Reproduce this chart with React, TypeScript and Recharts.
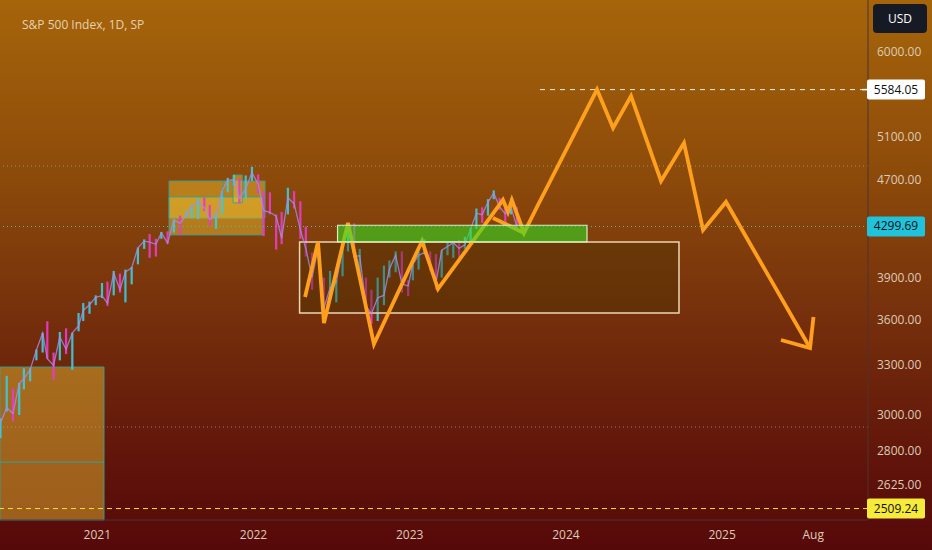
import React from "react";
import { ComposedChart, XAxis, YAxis, Bar, Line, ReferenceArea, ReferenceLine } from "recharts";

// ---------- price candles (bi-weekly ranges) ----------
const candleTime = [
  2020.38, 2020.42, 2020.46, 2020.5, 2020.53, 2020.57, 2020.61, 2020.65, 2020.68, 2020.72, 2020.76, 2020.8, 2020.84, 2020.88, 2020.91, 2020.95, 2020.99,
  2021.03, 2021.065, 2021.105, 2021.145, 2021.18, 2021.22, 2021.26, 2021.3, 2021.335, 2021.375, 2021.41, 2021.45, 2021.49, 2021.53, 2021.57, 2021.605, 2021.645, 2021.685, 2021.72, 2021.76, 2021.8, 2021.835, 2021.875, 2021.91, 2021.95, 2021.99,
  2022.03, 2022.065, 2022.105, 2022.145, 2022.18, 2022.22, 2022.26, 2022.3, 2022.335, 2022.375, 2022.41, 2022.45, 2022.49, 2022.53, 2022.57, 2022.605, 2022.645, 2022.68, 2022.72, 2022.755, 2022.795, 2022.835, 2022.87, 2022.91, 2022.95, 2022.99,
  2023.02, 2023.057, 2023.094, 2023.131, 2023.168, 2023.205, 2023.242, 2023.279, 2023.316, 2023.353, 2023.39, 2023.427, 2023.464, 2023.501, 2023.538, 2023.575, 2023.612, 2023.649, 2023.686,
];
const candleLow = [
  2870, 3020, 2965, 3000, 3150, 3200, 3330, 3380, 3340, 3210, 3330, 3370, 3270, 3520, 3590, 3640, 3700,
  3750, 3695, 3770, 3790, 3720, 3850, 4000, 4120, 4050, 4060, 4200, 4160, 4250, 4230, 4380, 4370, 4360, 4430, 4305, 4280, 4400, 4590, 4650, 4495, 4530, 4690,
  4580, 4222, 4400, 4114, 4157, 4400, 4450, 4200, 4060, 3810, 4080, 3637, 3740, 3720, 3910, 4100, 4050, 3900, 3640, 3570, 3590, 3700, 3900, 3940, 3790, 3765,
  3880, 3960, 4080, 3950, 3810, 3900, 4070, 4050, 4050, 4120, 4170, 4280, 4330, 4390, 4530, 4440, 4335, 4400, 4280,
];
const candleHigh = [
  2980, 3233, 3155, 3190, 3280, 3280, 3400, 3510, 3588, 3380, 3515, 3540, 3510, 3645, 3715, 3725, 3770,
  3860, 3870, 3950, 3930, 3960, 3980, 4130, 4195, 4238, 4200, 4255, 4260, 4360, 4390, 4430, 4480, 4540, 4545, 4480, 4420, 4600, 4718, 4745, 4710, 4740, 4818,
  4750, 4600, 4590, 4400, 4420, 4630, 4600, 4512, 4300, 4090, 4177, 3900, 3950, 3880, 4130, 4280, 4325, 4120, 3900, 3810, 3900, 3990, 4030, 4100, 4100, 3880,
  4000, 4100, 4195, 4100, 4080, 4110, 4170, 4170, 4190, 4215, 4290, 4450, 4460, 4530, 4607, 4540, 4460, 4540, 4460,
];
const candleClose = [
  2955, 3042, 3009, 3185, 3215, 3271, 3397, 3508, 3340, 3298, 3483, 3400, 3509, 3557, 3663, 3703, 3756,
  3768, 3714, 3934, 3811, 3943, 3974, 4128, 4181, 4173, 4156, 4247, 4166, 4352, 4327, 4395, 4468, 4509, 4459, 4357, 4391, 4605, 4697, 4701, 4538, 4620, 4766,
  4662, 4431, 4418, 4385, 4204, 4543, 4489, 4272, 4123, 3901, 4108, 3675, 3825, 3863, 4130, 4280, 4058, 4067, 3693, 3640, 3752, 3770, 3965, 4071, 3852, 3839,
  3999, 4070, 4090, 3970, 3861, 4109, 4138, 4169, 4124, 4151, 4282, 4410, 4398, 4505, 4582, 4464, 4405, 4457, 4300,
];

// ---------- hand-drawn orange forecast path ----------
const pathTime = [2022.33, 2022.413, 2022.451, 2022.605, 2022.771, 2023.079, 2023.181, 2023.597, 2023.629, 2023.654, 2023.732, 2023.821, 2024.199, 2024.302, 2024.417, 2024.609, 2024.756, 2024.878, 2025.025, 2025.563];
const pathPrice = [3758, 4174, 3576, 4329, 3435, 4182, 3816, 4523, 4420, 4523, 4247, 4480, 5584, 5189, 5516, 4690, 5043, 4271, 4506, 3409];
const sideTime = [2023.533, 2023.732];
const sidePrice = [4370, 4247];
const arrowTime = [2025.377, 2025.563, 2025.585];
const arrowPrice = [3462, 3409, 3617];

// ---------- levels ----------
const lastPrice = 4299.69;
const targetPrice = 5584.05;
const lowPrice = 2509.24;
const dottedLevels = [4826, 2932];
const targetStart = 2023.834;

// ---------- boxes ----------
const orangeBoxes = [
  { x1: 2020.377, x2: 2021.043, y1: 2455, y2: 3288 },
  { x1: 2021.459, x2: 2022.074, y1: 4370, y2: 4690 },
  { x1: 2021.459, x2: 2022.06, y1: 4231, y2: 4549 },
  { x1: 2021.869, x2: 2021.928, y1: 4498, y2: 4744 },
];
const leftBoxLine = { x1: 2020.377, x2: 2021.043, y: 2742 };
const middleDivider = { x: 2021.805, y1: 4549, y2: 4690 };
const greenBox = { x1: 2022.538, x2: 2024.135, y1: 4175, y2: 4310 };
const brownBox = { x1: 2022.295, x2: 2024.724, y1: 3645, y2: 4175 };

// ---------- axes ----------
const yTicks = [2625, 2800, 3000, 3300, 3600, 3900, 4700, 5100, 6000];
const xTicks = [2021, 2022, 2023, 2024, 2025, 2025.583];
const xTickLabels = ["2021", "2022", "2023", "2024", "2025", "Aug"];
const X_MIN = 2020.377;
const X_MAX = 2025.934;
const Y_MIN = 2455;
const Y_MAX = 6626;

const CYAN = "#3cc8dc";
const MAGENTA = "#e63cc6";
const ORANGE = "#ffa01c";
const TEXT = "#dccbb8";
const FONT = "'Open Sans', 'Noto Sans', sans-serif";

const data = candleTime.map((t, i) => ({
  t,
  range: [candleLow[i], candleHigh[i]],
  c: candleClose[i],
  up: i === 0 ? true : candleClose[i] >= candleClose[i - 1],
}));
const pathData = pathTime.map((t, i) => ({ t, p: pathPrice[i] }));
const sideData = sideTime.map((t, i) => ({ t, p: sidePrice[i] }));
const arrowData = arrowTime.map((t, i) => ({ t, p: arrowPrice[i] }));

const CandleShape = (props: any) => {
  const { x, y, width, height, payload } = props;
  if (x == null || y == null) return null;
  const h = Math.abs(height || 0);
  const top = height < 0 ? y + height : y;
  return (
    <rect
      x={x + (width || 0) / 2 - 1.1}
      y={top}
      width={2.2}
      height={Math.max(h, 1)}
      fill={payload.up ? CYAN : MAGENTA}
      fillOpacity={0.95}
    />
  );
};

const YTick = (props: any) => {
  const { y, payload } = props;
  return (
    <text x={877} y={y} dy={4} fill={TEXT} fontSize={12} fontFamily={FONT}>
      {Number(payload.value).toFixed(2)}
    </text>
  );
};

const XTick = (props: any) => {
  const { x, payload } = props;
  const idx = xTicks.indexOf(payload.value);
  return (
    <text x={x} y={539} textAnchor="middle" fill={TEXT} fontSize={12} fontFamily={FONT}>
      {idx >= 0 ? xTickLabels[idx] : ""}
    </text>
  );
};

const makeTag = (value: number, bg: string, fg: string, tick: boolean) => (props: any) => {
  const vb = props.viewBox || {};
  const right = (vb.x || 0) + (vb.width || 0);
  const cy = vb.y || 0;
  return (
    <g>
      {tick && <line x1={right - 6} x2={right} y1={cy} y2={cy} stroke={bg} strokeWidth={1.5} />}
      <rect x={right - 1} y={cy - 10} width={58} height={20} rx={2} fill={bg} />
      <text x={right + 28} y={cy + 4} textAnchor="middle" fill={fg} fontSize={12} fontFamily={FONT}>
        {value.toFixed(2)}
      </text>
    </g>
  );
};

const lineCommon = {
  type: "linear" as const,
  dot: false,
  activeDot: false,
  isAnimationActive: false,
  legendType: "none" as const,
};

export default function App() {
  return (
    <div
      style={{
        position: "absolute",
        left: 0,
        top: 0,
        width: 932,
        height: 550,
        background: "linear-gradient(180deg, #a6650a 0%, #8e4c0a 30%, #78320c 55%, #5f130a 85%, #560909 100%)",
        fontFamily: FONT,
        overflow: "hidden",
      }}
    >
      <ComposedChart
        width={932}
        height={550}
        data={data}
        margin={{ top: 0, right: 0, bottom: 0, left: 0 }}
      >
        <XAxis
          dataKey="t"
          type="number"
          domain={[X_MIN, X_MAX]}
          allowDataOverflow
          ticks={xTicks}
          tick={<XTick />}
          tickLine={false}
          height={30}
          axisLine={{ stroke: "#4a3430", strokeWidth: 1 }}
          interval={0}
        />
        <YAxis
          orientation="right"
          type="number"
          scale="log"
          domain={[Y_MIN, Y_MAX]}
          allowDataOverflow
          ticks={yTicks}
          tick={<YTick />}
          tickLine={false}
          width={64}
          axisLine={{ stroke: "#4a3430", strokeWidth: 1 }}
          interval={0}
        />

        {dottedLevels.map((v) => (
          <ReferenceLine key={v} y={v} stroke="#9aa4a0" strokeOpacity={0.75} strokeDasharray="1 3" ifOverflow="visible" />
        ))}

        {orangeBoxes.map((b, i) => (
          <ReferenceArea
            key={"ob" + i}
            x1={b.x1}
            x2={b.x2}
            y1={b.y1}
            y2={b.y2}
            fill="rgb(240,195,50)"
            fillOpacity={0.45}
            stroke="#2fa39a"
            strokeOpacity={0.9}
            strokeWidth={1}
            ifOverflow="visible"
          />
        ))}
        <ReferenceLine
          segment={[{ x: leftBoxLine.x1, y: leftBoxLine.y }, { x: leftBoxLine.x2, y: leftBoxLine.y }]}
          stroke="#2fa39a"
          strokeWidth={1}
          ifOverflow="visible"
        />
        <ReferenceLine
          segment={[{ x: middleDivider.x, y: middleDivider.y1 }, { x: middleDivider.x, y: middleDivider.y2 }]}
          stroke="#2fa39a"
          strokeWidth={1}
          ifOverflow="visible"
        />

        <Line {...lineCommon} dataKey="c" stroke="#a88ce8" strokeOpacity={0.8} strokeWidth={1.3} />
        <Bar dataKey="range" barSize={3} shape={<CandleShape />} isAnimationActive={false} />

        <ReferenceArea
          x1={brownBox.x1}
          x2={brownBox.x2}
          y1={brownBox.y1}
          y2={brownBox.y2}
          fill="#3e3000"
          fillOpacity={0.35}
          stroke="#ead6b4"
          strokeWidth={1.5}
          ifOverflow="visible"
          zIndex={350}
        />

        <Line {...lineCommon} data={pathData} dataKey="p" stroke={ORANGE} strokeWidth={3.8} strokeLinejoin="miter" zIndex={400} />
        <Line {...lineCommon} data={sideData} dataKey="p" stroke={ORANGE} strokeWidth={3.8} zIndex={400} />
        <Line {...lineCommon} data={arrowData} dataKey="p" stroke={ORANGE} strokeWidth={3.8} strokeLinejoin="miter" zIndex={400} />

        <ReferenceArea
          x1={greenBox.x1}
          x2={greenBox.x2}
          y1={greenBox.y1}
          y2={greenBox.y2}
          fill="#2ee020"
          fillOpacity={0.58}
          stroke="#d8f0c0"
          strokeWidth={1.2}
          ifOverflow="visible"
          zIndex={450}
        />

        <ReferenceLine
          y={lastPrice}
          stroke="#4fb8b8"
          strokeDasharray="1 3"
          ifOverflow="visible"
          label={makeTag(lastPrice, "#1fc3dc", "#101010", false)}
          zIndex={2000}
        />
        <ReferenceLine
          segment={[{ x: targetStart, y: targetPrice }, { x: X_MAX, y: targetPrice }]}
          stroke="#f4efe6"
          strokeDasharray="5 5"
          strokeWidth={1}
          ifOverflow="visible"
          label={makeTag(targetPrice, "#ffffff", "#101010", true)}
          zIndex={2000}
        />
        <ReferenceLine
          y={lowPrice}
          stroke="#f2e23a"
          strokeDasharray="5 4"
          strokeWidth={1}
          ifOverflow="visible"
          label={makeTag(lowPrice, "#f6ea3a", "#101010", false)}
          zIndex={2000}
        />
      </ComposedChart>

      <div
        style={{
          position: "absolute",
          left: 22,
          top: 16,
          color: "#e6d2b2",
          fontSize: 12,
          fontFamily: FONT,
          whiteSpace: "nowrap",
        }}
      >
        S&amp;P 500 Index, 1D, SP
      </div>
      <div
        style={{
          position: "absolute",
          left: 873,
          top: 4,
          width: 54,
          height: 29,
          background: "#161a25",
          borderRadius: 4,
          color: "#ffffff",
          fontSize: 12,
          fontFamily: FONT,
          display: "flex",
          alignItems: "center",
          justifyContent: "center",
        }}
      >
        USD
      </div>
    </div>
  );
}
